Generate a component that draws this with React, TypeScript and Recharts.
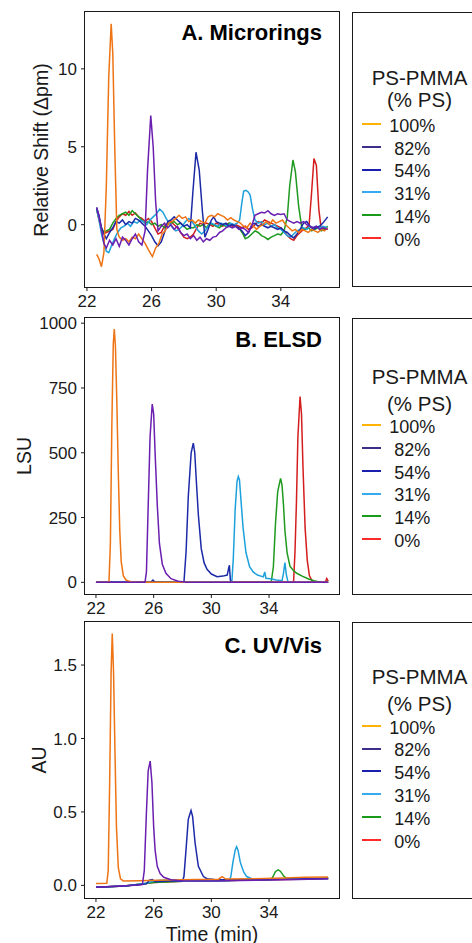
import React from 'react';
import { LineChart, Line, XAxis, YAxis } from 'recharts';

type Pt = [number, number];

const seriesLabels = ['100%', ' 82%', ' 54%', ' 31%', ' 14%', ' 0%'];
const lineColors = ['#EE7414', '#6A1FB0', '#1C2AA8', '#1EA0DC', '#1E9A1E', '#D41E1E'];
const legendColors = ['#FFB300', '#3C2F8A', '#1B1FB0', '#35AAF0', '#1A9A1A', '#FF2A2A'];
// ggplot draws 0% first, purple baseline ends up on top
const drawOrder = [5, 4, 3, 2, 0, 1];

const timeTicks = [22, 26, 30, 34];
const ticksA = [0, 5, 10];
const ticksB = [0, 250, 500, 750, 1000];
const ticksC = [0, 0.5, 1.0, 1.5];

// A. Microrings (relative shift, pm)
const rings100: Pt[] = [[22.6,-1.9],[22.75,-2.2],[22.9,-2.7],[23.05,-1.8],[23.2,2.5],[23.35,9.5],[23.5,12.9],[23.6,11.0],[23.72,5.0],[23.85,-0.3],[24.0,-0.8],[24.2,-1.0],[24.4,-0.9],[24.6,-1.1],[24.8,-0.8],[25.0,-0.9],[25.2,-0.6],[25.4,-0.9],[25.6,-1.2],[25.8,-1.6],[26.05,-2.05],[26.25,-1.5],[26.45,-1.2],[26.65,-0.6],[26.85,-0.4],[27.05,0.1],[27.25,0.2],[27.5,0.4],[27.7,0.6],[27.9,0.4],[28.1,0.5],[28.3,0.2],[28.5,0.3],[28.7,0.1],[28.9,0.3],[29.1,0.2],[29.3,0.1],[29.5,0.5],[29.7,0.6],[29.9,0.5],[30.1,0.7],[30.3,0.6],[30.5,0.5],[30.7,0.3],[30.9,0.45],[31.1,0.3],[31.3,0.2],[31.5,0.1],[31.7,-0.1],[31.9,-0.2],[32.1,0.1],[32.3,-0.1],[32.5,-0.3],[32.7,-0.1],[32.9,0.0],[33.1,0.2],[33.3,0.0],[33.5,0.3],[33.7,0.1],[33.9,0.2],[34.1,0.3],[34.3,0.0],[34.5,-0.2],[34.7,-0.4],[34.9,-0.3],[35.1,-0.5],[35.3,-0.3],[35.5,-0.4],[35.7,-0.5],[35.9,-0.3],[36.1,-0.4],[36.3,-0.5],[36.5,-0.3],[36.7,-0.4],[36.9,-0.2]];
const rings82: Pt[] = [[22.6,1.1],[22.75,0.5],[22.9,-0.3],[23.05,-1.2],[23.2,-1.5],[23.4,-1.0],[23.6,-1.3],[23.8,-0.9],[24.0,-1.4],[24.2,-0.8],[24.4,-1.0],[24.6,-1.3],[24.8,-0.9],[25.0,-0.6],[25.2,-1.1],[25.4,-1.3],[25.6,-0.4],[25.75,3.5],[25.95,7.0],[26.1,5.0],[26.25,1.5],[26.4,-0.4],[26.6,-0.1],[26.8,0.1],[27.0,-0.2],[27.2,0.0],[27.4,-0.3],[27.6,-0.1],[27.8,-0.5],[28.0,-0.7],[28.2,-0.6],[28.4,-0.9],[28.6,-0.7],[28.8,-1.0],[29.0,-0.8],[29.2,-1.1],[29.4,-0.9],[29.6,-1.0],[29.8,-0.8],[30.0,-0.75],[30.2,-0.5],[30.4,-0.4],[30.6,-0.2],[30.8,-0.1],[31.0,-0.2],[31.2,-0.1],[31.4,-0.3],[31.6,-0.2],[31.8,-0.3],[32.0,-0.5],[32.2,-0.1],[32.4,0.6],[32.6,0.7],[32.8,0.8],[33.0,0.75],[33.2,0.9],[33.4,0.7],[33.6,0.6],[33.8,0.7],[34.0,0.65],[34.2,0.7],[34.4,0.3],[34.6,0.2],[34.8,0.1],[35.0,0.2],[35.2,0.1],[35.4,0.2],[35.6,0.0],[35.8,-0.1],[36.0,-0.2],[36.2,-0.1],[36.4,-0.3],[36.6,-0.2],[36.9,-0.3]];
const rings54: Pt[] = [[22.6,1.1],[22.75,0.6],[22.9,-0.2],[23.05,-0.6],[23.2,-0.9],[23.4,-0.5],[23.6,-0.2],[23.8,0.2],[24.0,0.1],[24.2,0.3],[24.4,0.0],[24.6,0.2],[24.8,0.1],[25.0,0.4],[25.2,0.3],[25.4,0.1],[25.6,-0.1],[25.8,-0.4],[26.0,-0.7],[26.2,-1.1],[26.4,-1.35],[26.6,-1.1],[26.8,-0.5],[27.0,0.2],[27.2,0.3],[27.4,0.5],[27.6,0.3],[27.8,0.1],[28.0,-0.1],[28.2,0.0],[28.4,-0.2],[28.55,2.0],[28.75,4.65],[28.95,3.5],[29.15,0.8],[29.3,-0.8],[29.5,-0.3],[29.7,0.3],[29.85,0.5],[30.0,0.2],[30.2,0.1],[30.4,0.0],[30.6,0.1],[30.8,-0.1],[31.0,0.0],[31.2,-0.1],[31.4,-0.2],[31.6,-0.4],[31.8,-0.7],[32.0,-0.5],[32.2,0.0],[32.4,0.1],[32.6,-0.1],[32.8,0.0],[33.0,-0.1],[33.2,-0.2],[33.4,-0.1],[33.6,-0.2],[33.8,-0.3],[34.0,-0.2],[34.2,-0.4],[34.4,-0.5],[34.6,-0.7],[34.8,-0.85],[35.0,-0.6],[35.2,-0.3],[35.4,0.1],[35.6,0.2],[35.8,-0.1],[36.0,-0.3],[36.2,-0.2],[36.4,-0.1],[36.6,0.1],[36.9,0.5]];
const rings31: Pt[] = [[22.6,1.0],[22.75,0.3],[22.9,-0.6],[23.05,-1.2],[23.2,-1.7],[23.35,-1.8],[23.5,-1.4],[23.7,-0.9],[23.9,-0.5],[24.1,-0.2],[24.3,-0.1],[24.5,0.1],[24.7,-0.1],[24.9,0.2],[25.1,0.1],[25.3,0.3],[25.5,0.2],[25.7,0.0],[25.9,0.3],[26.1,0.5],[26.3,0.7],[26.5,1.0],[26.7,0.8],[26.9,0.4],[27.1,0.1],[27.3,-0.2],[27.5,-0.4],[27.7,-0.3],[27.9,-0.1],[28.1,0.2],[28.3,0.4],[28.5,0.2],[28.7,-0.1],[28.9,-0.4],[29.1,-0.6],[29.3,-0.4],[29.5,-0.1],[29.7,0.1],[29.9,0.0],[30.1,-0.1],[30.3,0.1],[30.5,0.0],[30.7,-0.1],[30.9,0.1],[31.1,0.0],[31.3,0.1],[31.45,0.3],[31.6,1.5],[31.7,2.15],[31.85,2.2],[31.98,2.1],[32.1,1.9],[32.25,1.0],[32.4,0.3],[32.6,0.1],[32.8,0.2],[33.0,0.0],[33.2,0.1],[33.4,-0.1],[33.6,0.0],[33.8,-0.2],[34.0,-0.3],[34.2,-0.5],[34.4,-0.7],[34.6,-0.8],[34.8,-0.6],[35.0,-0.4],[35.2,-0.3],[35.4,-0.2],[35.6,-0.3],[35.8,-0.1],[36.0,-0.2],[36.2,-0.1],[36.4,-0.2],[36.6,-0.1],[36.9,-0.2]];
const rings14: Pt[] = [[22.6,1.0],[22.75,0.4],[22.9,-0.2],[23.05,-0.5],[23.2,-0.4],[23.4,-0.3],[23.6,0.1],[23.8,0.4],[24.0,0.6],[24.2,0.7],[24.4,0.8],[24.6,0.6],[24.8,0.9],[25.0,0.7],[25.2,0.5],[25.4,0.3],[25.6,0.1],[25.8,0.2],[26.0,0.0],[26.2,0.1],[26.4,-0.1],[26.6,0.0],[26.8,-0.2],[27.0,0.0],[27.2,0.1],[27.4,0.2],[27.6,0.0],[27.8,0.1],[28.0,-0.1],[28.2,-0.3],[28.4,-0.2],[28.6,-0.2],[28.8,0.0],[29.0,-0.1],[29.2,0.0],[29.4,-0.2],[29.6,0.1],[29.8,0.0],[30.0,-0.1],[30.2,-0.2],[30.4,0.0],[30.6,-0.1],[30.8,0.1],[31.0,0.0],[31.2,-0.1],[31.4,-0.2],[31.6,-0.5],[31.8,-0.9],[32.0,-0.8],[32.2,-0.6],[32.4,-0.4],[32.6,-0.5],[32.8,-0.7],[33.0,-0.8],[33.2,-0.95],[33.4,-0.8],[33.6,-0.7],[33.8,-0.6],[34.0,-0.65],[34.2,-0.4],[34.4,0.5],[34.55,2.5],[34.75,4.15],[34.9,3.4],[35.1,1.2],[35.3,-0.2],[35.5,-0.3],[35.7,-0.2],[35.9,-0.4],[36.1,-0.3],[36.3,-0.2],[36.5,-0.4],[36.7,-0.3],[36.9,-0.1]];
const rings0: Pt[] = [[22.6,1.0],[22.75,0.3],[22.9,-0.3],[23.05,-0.55],[23.2,-0.5],[23.4,-0.4],[23.6,-0.3],[23.8,0.2],[24.0,0.5],[24.2,0.7],[24.4,0.6],[24.6,0.85],[24.8,0.6],[25.0,0.75],[25.2,0.5],[25.4,0.4],[25.6,0.2],[25.8,0.4],[26.0,0.2],[26.2,-0.2],[26.4,-0.6],[26.6,-0.5],[26.8,-0.1],[27.0,0.1],[27.2,0.2],[27.4,0.0],[27.6,-0.2],[27.8,-0.5],[28.0,-0.8],[28.2,-0.9],[28.4,-0.8],[28.6,-0.6],[28.8,-0.2],[29.0,0.1],[29.2,0.0],[29.4,0.1],[29.6,0.0],[29.8,-0.1],[30.0,0.1],[30.2,0.0],[30.4,-0.1],[30.6,0.0],[30.8,0.1],[31.0,-0.1],[31.2,0.0],[31.4,-0.1],[31.6,-0.2],[31.8,-0.1],[32.0,-0.3],[32.2,-0.2],[32.4,0.0],[32.6,0.2],[32.8,0.1],[33.0,0.3],[33.2,0.2],[33.4,0.1],[33.6,0.0],[33.8,-0.1],[34.0,-0.2],[34.2,-0.4],[34.4,-0.7],[34.6,-0.9],[34.8,-1.0],[35.0,-0.7],[35.2,-0.5],[35.4,-0.3],[35.6,-0.2],[35.75,0.0],[35.9,2.0],[36.05,4.25],[36.2,3.8],[36.35,1.0],[36.5,-0.3],[36.7,-0.2],[36.9,-0.3]];

// B. ELSD (LSU)
const elsd100: Pt[] = [[22.0,0],[22.9,0],[23.0,150],[23.1,600],[23.2,920],[23.27,977],[23.35,910],[23.45,690],[23.55,420],[23.65,200],[23.75,80],[23.9,25],[24.1,8],[24.4,2],[25.0,0],[38.1,0]];
const elsd82: Pt[] = [[22.0,0],[25.4,0],[25.5,40],[25.6,250],[25.75,560],[25.9,688],[26.0,650],[26.1,500],[26.25,300],[26.4,150],[26.6,70],[26.85,35],[27.2,14],[27.7,4],[28.3,0],[38.1,0]];
const elsd54: Pt[] = [[22.0,0],[25.8,0],[25.95,9],[26.1,0],[28.1,0],[28.25,120],[28.4,330],[28.6,500],[28.75,537],[28.85,500],[28.95,400],[29.1,260],[29.3,130],[29.5,75],[29.7,50],[30.0,32],[30.4,22],[30.8,24],[31.1,28],[31.2,55],[31.25,66],[31.32,8],[31.4,0],[38.1,0]];
const elsd31: Pt[] = [[22.0,0],[31.42,0],[31.52,90],[31.65,280],[31.78,390],[31.87,408],[31.95,395],[32.05,320],[32.2,210],[32.4,115],[32.65,60],[32.9,40],[33.2,28],[33.6,21],[33.7,40],[33.78,16],[34.1,14],[34.5,9],[34.9,6],[35.0,35],[35.1,76],[35.2,30],[35.32,0],[38.1,0]];
const elsd14: Pt[] = [[22.0,0],[34.15,0],[34.3,60],[34.45,230],[34.6,350],[34.8,401],[34.9,375],[35.0,300],[35.1,200],[35.25,115],[35.45,62],[35.7,45],[35.95,34],[36.3,24],[36.7,14],[37.1,6],[37.5,1],[38.1,0]];
const elsd0: Pt[] = [[22.0,0],[35.7,0],[35.8,120],[35.9,310],[36.0,560],[36.15,717],[36.25,650],[36.35,450],[36.5,210],[36.65,85],[36.8,25],[37.0,5],[37.2,0],[37.9,0],[38.0,15],[38.1,5]];

// C. UV/Vis (AU)
const uv100: Pt[] = [[22.0,0.012],[22.75,0.014],[22.85,0.1],[22.95,0.7],[23.05,1.45],[23.13,1.715],[23.22,1.45],[23.32,0.9],[23.42,0.4],[23.55,0.12],[23.7,0.045],[23.9,0.03],[25.0,0.032],[27.0,0.036],[29.0,0.04],[30.5,0.042],[30.75,0.06],[31.0,0.043],[33.0,0.045],[35.0,0.05],[36.5,0.055],[38.1,0.057]];
const uv82: Pt[] = [[22.0,-0.012],[23.0,-0.008],[24.0,-0.003],[25.0,0.002],[25.22,0.005],[25.35,0.1],[25.5,0.5],[25.62,0.78],[25.76,0.846],[25.88,0.7],[26.0,0.4],[26.1,0.24],[26.25,0.13],[26.45,0.08],[26.7,0.055],[27.2,0.038],[28.0,0.03],[30.0,0.03],[32.0,0.033],[34.0,0.036],[36.0,0.04],[38.1,0.045]];
const uv54: Pt[] = [[22.0,-0.012],[24.0,-0.004],[25.5,0.01],[25.7,0.035],[25.9,0.04],[26.1,0.025],[27.0,0.03],[28.0,0.03],[28.1,0.06],[28.25,0.25],[28.4,0.45],[28.59,0.51],[28.7,0.47],[28.87,0.29],[29.1,0.13],[29.45,0.06],[29.7,0.045],[30.2,0.04],[32.0,0.037],[34.0,0.04],[36.0,0.043],[38.1,0.047]];
const uv31: Pt[] = [[22.0,-0.012],[24.0,-0.004],[25.5,0.015],[26.0,0.03],[26.5,0.035],[27.2,0.035],[28.0,0.028],[30.0,0.03],[31.25,0.032],[31.35,0.06],[31.5,0.16],[31.65,0.24],[31.75,0.263],[31.85,0.24],[32.0,0.16],[32.1,0.13],[32.25,0.09],[32.45,0.06],[32.8,0.045],[33.2,0.04],[35.0,0.042],[38.1,0.047]];
const uv14: Pt[] = [[22.0,-0.012],[24.0,-0.004],[26.0,0.02],[28.0,0.028],[30.0,0.032],[32.0,0.035],[34.1,0.038],[34.25,0.055],[34.45,0.095],[34.64,0.106],[34.8,0.095],[35.0,0.065],[35.2,0.048],[35.5,0.045],[36.5,0.045],[38.1,0.048]];
const uv0: Pt[] = [[22.0,-0.012],[24.0,-0.004],[26.0,0.02],[28.0,0.028],[30.0,0.03],[32.0,0.034],[34.0,0.038],[36.0,0.042],[38.1,0.046]];

const toRows = (pts: Pt[]) => pts.map(([t, v]) => ({ t, v }));

const font = '"Liberation Sans", Arial, sans-serif';
const ink = '#1a1a1a';
const tickStyle = { fill: ink, fontSize: 17, fontFamily: font };

type PanelProps = {
  top: number;
  height: number;
  marginTop: number;
  xHeight: number;
  xDomain: [number, number];
  yDomain: [number, number];
  yTicks: number[];
  yFmt?: (v: number) => string;
  series: Pt[][];
};

function Panel({ top, height, marginTop, xHeight, xDomain, yDomain, yTicks, yFmt, series }: PanelProps) {
  const plotTop = top + marginTop;
  const plotH = height - marginTop - xHeight;
  return (
    <>
      <div style={{ position: 'absolute', left: 0, top }}>
        <LineChart width={345} height={height} margin={{ top: marginTop, right: 6, left: 0, bottom: 0 }}>
          <XAxis
            type="number"
            dataKey="t"
            domain={xDomain}
            allowDataOverflow
            ticks={timeTicks}
            interval={0}
            axisLine={false}
            tickLine={{ stroke: ink }}
            tickSize={4}
            tickMargin={4}
            height={xHeight}
            tick={tickStyle}
          />
          <YAxis
            type="number"
            domain={yDomain}
            allowDataOverflow
            ticks={yTicks}
            interval={0}
            tickFormatter={yFmt}
            axisLine={false}
            tickLine={{ stroke: ink }}
            tickSize={4}
            tickMargin={4}
            width={85}
            tick={tickStyle}
          />
          {drawOrder.map((i) => (
            <Line
              key={i}
              data={toRows(series[i])}
              dataKey="v"
              type="linear"
              stroke={lineColors[i]}
              strokeWidth={1.5}
              dot={false}
              isAnimationActive={false}
            />
          ))}
        </LineChart>
      </div>
      <div
        style={{
          position: 'absolute',
          left: 84,
          top: plotTop - 1,
          width: 256,
          height: plotH + 2,
          border: `1.5px solid ${ink}`,
          boxSizing: 'border-box',
          pointerEvents: 'none',
        }}
      />
    </>
  );
}

function Legend({ top, bottom, titleY, subY, firstY }: { top: number; bottom: number; titleY: number; subY: number; firstY: number }) {
  const step = 22.8;
  return (
    <>
      <div
        style={{
          position: 'absolute',
          left: 352,
          top,
          width: 200,
          height: bottom - top,
          border: `1.5px solid ${ink}`,
          boxSizing: 'border-box',
        }}
      />
      <div style={{ position: 'absolute', left: 419.5, top: titleY - 9.8, transform: 'translateX(-50%)', fontSize: 20.5, lineHeight: 1, whiteSpace: 'nowrap', color: ink }}>
        PS-PMMA
      </div>
      <div style={{ position: 'absolute', left: 419.5, top: subY - 9.8, transform: 'translateX(-50%)', fontSize: 20.5, lineHeight: 1, whiteSpace: 'nowrap', color: ink }}>
        (% PS)
      </div>
      {seriesLabels.map((lab, i) => (
        <React.Fragment key={lab}>
          <div style={{ position: 'absolute', left: 362, top: firstY + i * step - 2.5, width: 19, height: 2, background: legendColors[i] }} />
          <div style={{ position: 'absolute', left: 389.3, top: firstY + i * step - 8.8, fontSize: 18, lineHeight: 1, whiteSpace: 'pre', color: ink }}>
            {lab}
          </div>
        </React.Fragment>
      ))}
    </>
  );
}

function PanelTitle({ text, capTop }: { text: string; capTop: number }) {
  return (
    <div style={{ position: 'absolute', right: 472 - 322, top: capTop - 3, fontSize: 22, fontWeight: 'bold', lineHeight: 1, whiteSpace: 'nowrap', color: '#000' }}>
      {text}
    </div>
  );
}

function AxisTitle({ text, cx, cy }: { text: string; cx: number; cy: number }) {
  return (
    <div
      style={{
        position: 'absolute',
        left: cx,
        top: cy,
        transform: 'translate(-50%, -50%) rotate(-90deg)',
        fontSize: 19.5,
        lineHeight: 1,
        whiteSpace: 'nowrap',
        color: ink,
      }}
    >
      {text}
    </div>
  );
}

export default function App() {
  return (
    <div
      style={{
        position: 'fixed',
        left: 0,
        top: 0,
        width: 472,
        height: 943,
        overflow: 'hidden',
        background: '#fff',
        fontFamily: font,
      }}
    >
      <Panel
        top={0}
        height={317}
        marginTop={12}
        xHeight={30}
        xDomain={[21.88, 37.6]}
        yDomain={[-4, 13.65]}
        yTicks={ticksA}
        series={[rings100, rings82, rings54, rings31, rings14, rings0]}
      />
      <Panel
        top={300}
        height={324}
        marginTop={18}
        xHeight={30}
        xDomain={[21.24, 38.85]}
        yDomain={[-45, 1020]}
        yTicks={ticksB}
        series={[elsd100, elsd82, elsd54, elsd31, elsd14, elsd0]}
      />
      <Panel
        top={600}
        height={343}
        marginTop={22}
        xHeight={45}
        xDomain={[21.24, 38.85]}
        yDomain={[-0.086, 1.793]}
        yTicks={ticksC}
        yFmt={(v: number) => v.toFixed(1)}
        series={[uv100, uv82, uv54, uv31, uv14, uv0]}
      />

      <PanelTitle text="A. Microrings" capTop={25} />
      <PanelTitle text="B. ELSD" capTop={332} />
      <PanelTitle text="C. UV/Vis" capTop={638} />

      <AxisTitle text="Relative Shift (Δpm)" cx={42} cy={150} />
      <AxisTitle text="LSU" cx={24.5} cy={456} />
      <AxisTitle text="AU" cx={39.5} cy={760} />

      <div style={{ position: 'absolute', left: 212, top: 924.5, transform: 'translateX(-50%)', fontSize: 19.5, lineHeight: 1, whiteSpace: 'nowrap', color: ink }}>
        Time (min)
      </div>

      <Legend top={12} bottom={287} titleY={77.3} subY={100} firstY={125.5} />
      <Legend top={318} bottom={595} titleY={376.7} subY={403.3} firstY={426.7} />
      <Legend top={622} bottom={899} titleY={676.7} subY={703.3} firstY={727.3} />
    </div>
  );
}
